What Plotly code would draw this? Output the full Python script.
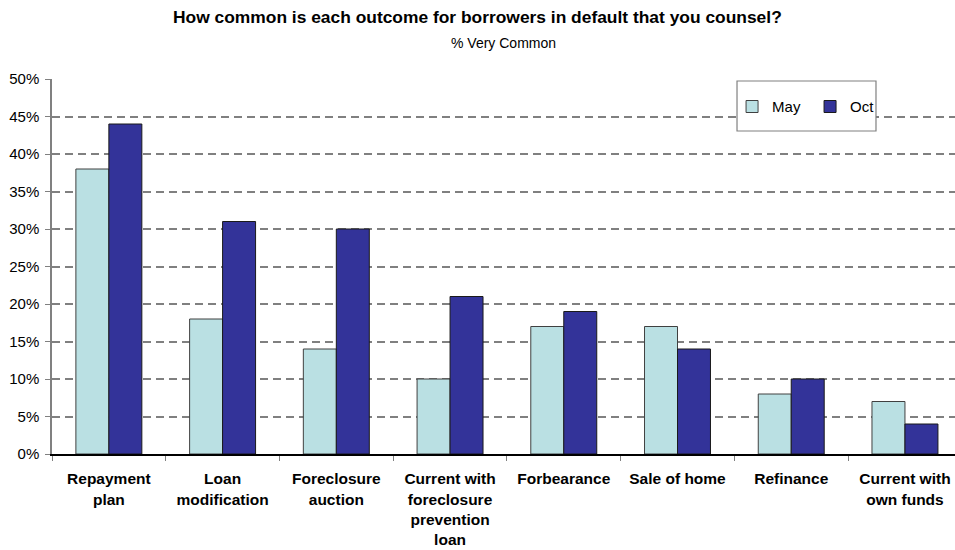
import plotly.graph_objects as go

categories = [
    "Repayment<br>plan",
    "Loan<br>modification",
    "Foreclosure<br>auction",
    "Current with<br>foreclosure<br>prevention<br>loan",
    "Forbearance",
    "Sale of home",
    "Refinance",
    "Current with<br>own funds",
]
may_values = [38, 18, 14, 10, 17, 17, 8, 7]
oct_values = [44, 31, 30, 21, 19, 14, 10, 4]
y_ticks = [0, 5, 10, 15, 20, 25, 30, 35, 40, 45, 50]
y_tick_labels = [f"{v}%" for v in y_ticks]

title_text = "How common is each outcome for borrowers in default that you counsel?"
subtitle_text = "% Very Common"

FONT = "Liberation Sans, Arial, sans-serif"

fig = go.Figure()
fig.add_trace(go.Bar(
    name="May", x=categories, y=may_values,
    marker=dict(color="#BAE0E3", line=dict(color="#404040", width=1)),
))
fig.add_trace(go.Bar(
    name="Oct", x=categories, y=oct_values,
    marker=dict(color="#333399", line=dict(color="#1a1a1a", width=1)),
))

fig.update_layout(
    width=955, height=550,
    margin=dict(l=52, r=0, t=79, b=96),
    paper_bgcolor="white", plot_bgcolor="white",
    barmode="group", bargap=0.42, bargroupgap=0,
    font=dict(family=FONT, size=15, color="#000000"),
    annotations=[
        dict(text=f"<b>{title_text}</b>", xref="paper", yref="paper",
             x=0.4712, y=1.1653, xanchor="center", yanchor="middle",
             showarrow=False, font=dict(family=FONT, size=17.4, color="#000000")),
        dict(text=subtitle_text, xref="paper", yref="paper",
             x=0.5, y=1.096, xanchor="center", yanchor="middle",
             showarrow=False, font=dict(family=FONT, size=14, color="#000000")),
    ],
    shapes=[
        # legend frame
        dict(type="rect", xref="paper", yref="paper",
             x0=0.7586, x1=0.9125, y0=0.8613, y1=0.9947,
             line=dict(color="#808080", width=1.2), fillcolor="white", layer="above"),
    ],
    legend=dict(
        orientation="h", x=0.7531, xanchor="left", y=0.926, yanchor="middle",
        borderwidth=0, bgcolor="rgba(0,0,0,0)",
        font=dict(family=FONT, size=15),
        itemwidth=30, entrywidth=33,
    ),
    showlegend=True,
)

fig.update_xaxes(
    type="category", range=[-0.5, 7.44],
    showline=True, linecolor="#000000", linewidth=1.5,
    ticks="outside", tickson="boundaries", ticklen=5, tickcolor="#808080",
    tickfont=dict(family=FONT, size=15.5, weight="bold"),
    ticklabelstandoff=10,
    showgrid=False,
)
fig.update_yaxes(
    range=[0, 50], tickvals=y_ticks, ticktext=y_tick_labels,
    showline=True, linecolor="#808080", linewidth=1.5,
    ticks="outside", ticklen=5, tickcolor="#808080",
    tickfont=dict(family=FONT, size=15),
    ticklabelstandoff=3,
    showgrid=True, gridcolor="#808080", gridwidth=1.5, griddash="8px,5px",
    zeroline=False,
)

fig.write_html("out.html")
